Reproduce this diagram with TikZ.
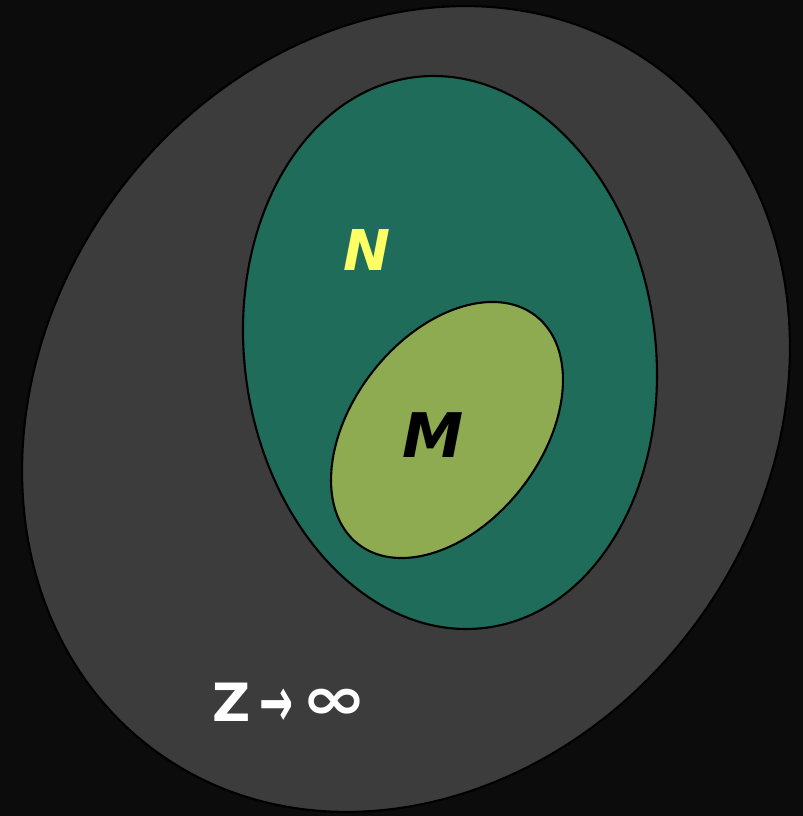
\documentclass[tikz,border=0pt]{standalone}
\usepackage{fontspec}
\setsansfont{DejaVu Sans}
\usepackage{graphicx}
\usepackage{tikz}
\usetikzlibrary{positioning}
\definecolor{bgblack}{HTML}{0C0C0C}
\definecolor{zgray}{HTML}{3C3C3C}
\definecolor{ngreen}{HTML}{1E6C59}
\definecolor{mgreen}{HTML}{8EAB52}
\definecolor{nyellow}{HTML}{FFFF66}

\begin{document}
\begin{tikzpicture}[
 font=\sffamily\bfseries,
 set/.style={draw=black,line width=0.6pt},
 lbl/.style={inner sep=0pt,font=\sffamily\bfseries\itshape}
]
\fill[bgblack] (0,0) rectangle (8.03,8.16);
\useasboundingbox (0,0) rectangle (8.03,8.16);

% Z, N, M sets
\draw[set,fill=zgray,shift={(4.06,4.07)},rotate=53.7] (0,0) ellipse [x radius=4.24,y radius=3.605];
\draw[set,fill=ngreen,shift={(4.50,4.635)},rotate=7.6] (0,0) ellipse [x radius=2.055,y radius=2.776];
\draw[set,fill=mgreen,shift={(4.47,3.86)},rotate=52.1] (0,0) ellipse [x radius=1.446,y radius=0.945];

\node[lbl,text=nyellow,font=\sffamily\bfseries\itshape\fontsize{16}{16}\selectfont] (labN) at (3.67,5.66) {N};
\node[lbl,text=black,font=\sffamily\bfseries\itshape\fontsize{17.5}{17.5}\selectfont] (labM) at (4.33,3.81) {M};
\node[text=white,inner sep=0pt] (labZ) at (2.90,1.11)
  {\fontsize{15}{15}\selectfont Z\,\raisebox{-1.5pt}{\scalebox{1.05}[1.8]{\fontsize{11}{11}\selectfont →}}\,\raisebox{0.5pt}{\scalebox{1.25}[0.95]{\fontsize{18}{18}\selectfont ∞}}};
\end{tikzpicture}
\end{document}
